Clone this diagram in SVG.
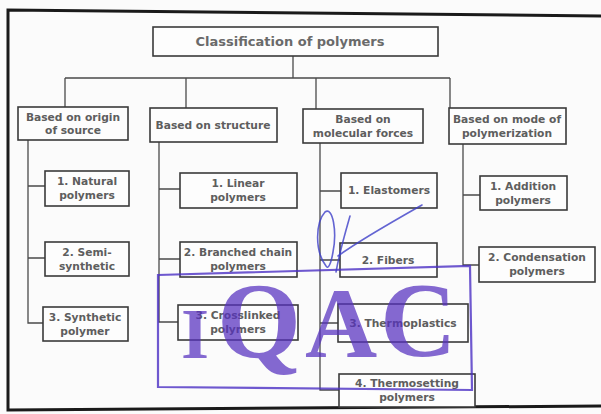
<svg xmlns="http://www.w3.org/2000/svg" width="601" height="414" viewBox="0 0 601 414">
  <style>
    .box { fill: #fdfdfd; stroke: #3a3a3a; stroke-width: 1.6; }
    .lbl { font-family: "DejaVu Sans", "Liberation Sans", sans-serif; font-weight: bold; font-size: 10.7px; fill: #5e5e5e; text-anchor: middle; }
    .title { font-size: 13px; fill: #6a6a6a; }
    .wire { fill: none; stroke: #4a4a4a; stroke-width: 1.3; }
    .frame { fill: none; stroke: #1a1a1a; stroke-width: 3; }
    .stamp { fill: none; stroke: #4b2fc4; stroke-width: 2.2; opacity: 0.8; }
    .ink { fill: none; stroke: #3d3fc8; stroke-width: 1.6; opacity: 0.8; stroke-linecap: round; }
    .seal { font-family: "Liberation Serif", "DejaVu Serif", serif; font-weight: bold; fill: #5630c0; opacity: 0.72; }
  </style>

  <rect width="601" height="414" fill="#fbfbfb"/>

  <!-- page frame -->
  <path class="frame" d="M601,16 L8,10 L8,410 L601,406"/>

  <!-- connectors -->
  <g id="connectors">
    <path class="wire" d="M293,56 V78 M65,78 H450 M65,78 V107 M186,78 V108 M316,78 V109 M450,78 V108"/>
    <path class="wire" d="M28,140 V323 H43 M28,186 H45 M28,258 H45"/>
    <path class="wire" d="M159,142 V322 H178 M159,189 H180 M159,259 H180"/>
    <path class="wire" d="M320,143 V390 H339 M320,191 H341 M320,260 H340 M320,323 H338"/>
    <path class="wire" d="M463,144 V265 H479 M463,195 H480"/>
  </g>

  <g id="root">
    <rect class="box" x="153" y="27" width="285" height="29"/>
    <text class="lbl title" x="290" y="46">Classification of polymers</text>
  </g>

  <g id="origin">
    <rect class="box" x="18" y="107" width="110" height="33"/>
    <text class="lbl" x="73" y="121">Based on origin</text>
    <text class="lbl" x="73" y="134">of source</text>
  </g>
  <g id="structure">
    <rect class="box" x="150" y="108" width="127" height="34"/>
    <text class="lbl" x="213" y="129">Based on structure</text>
  </g>
  <g id="forces">
    <rect class="box" x="303" y="109" width="120" height="34"/>
    <text class="lbl" x="363" y="123">Based on</text>
    <text class="lbl" x="363" y="137">molecular forces</text>
  </g>
  <g id="mode">
    <rect class="box" x="449" y="108" width="117" height="36"/>
    <text class="lbl" x="507" y="123">Based on mode of</text>
    <text class="lbl" x="507" y="137">polymerization</text>
  </g>

  <g id="natural">
    <rect class="box" x="45" y="171" width="84" height="35"/>
    <text class="lbl" x="87" y="185">1. Natural</text>
    <text class="lbl" x="87" y="199">polymers</text>
  </g>
  <g id="semisynthetic">
    <rect class="box" x="45" y="242" width="84" height="34"/>
    <text class="lbl" x="87" y="256">2. Semi-</text>
    <text class="lbl" x="87" y="270">synthetic</text>
  </g>
  <g id="synthetic">
    <rect class="box" x="43" y="307" width="85" height="34"/>
    <text class="lbl" x="85" y="321">3. Synthetic</text>
    <text class="lbl" x="85" y="335">polymer</text>
  </g>

  <g id="linear">
    <rect class="box" x="180" y="173" width="117" height="35"/>
    <text class="lbl" x="238" y="187">1. Linear</text>
    <text class="lbl" x="238" y="201">polymers</text>
  </g>
  <g id="branched">
    <rect class="box" x="180" y="242" width="117" height="35"/>
    <text class="lbl" x="238" y="256">2. Branched chain</text>
    <text class="lbl" x="238" y="270">polymers</text>
  </g>
  <g id="crosslinked">
    <rect class="box" x="178" y="305" width="120" height="35"/>
    <text class="lbl" x="238" y="319">3. Crosslinked</text>
    <text class="lbl" x="238" y="333">polymers</text>
  </g>

  <g id="elastomers">
    <rect class="box" x="341" y="173" width="96" height="35"/>
    <text class="lbl" x="389" y="194">1. Elastomers</text>
  </g>
  <g id="fibers">
    <rect class="box" x="340" y="243" width="97" height="34"/>
    <text class="lbl" x="388" y="264">2. Fibers</text>
  </g>
  <g id="thermoplastics">
    <rect class="box" x="338" y="304" width="130" height="38"/>
    <text class="lbl" x="403" y="327">3. Thermoplastics</text>
  </g>
  <g id="thermosetting">
    <rect class="box" x="339" y="374" width="136" height="33"/>
    <text class="lbl" x="407" y="387">4. Thermosetting</text>
    <text class="lbl" x="407" y="401">polymers</text>
  </g>

  <g id="addition">
    <rect class="box" x="480" y="176" width="87" height="34"/>
    <text class="lbl" x="523" y="190">1. Addition</text>
    <text class="lbl" x="523" y="204">polymers</text>
  </g>
  <g id="condensation">
    <rect class="box" x="479" y="247" width="116" height="35"/>
    <text class="lbl" x="537" y="261">2. Condensation</text>
    <text class="lbl" x="537" y="275">polymers</text>
  </g>

  <!-- rubber stamp and signature -->
  <g id="stamp">
    <path class="stamp" d="M158,275 L470,266 L472,390 L158,387 Z"/>
    <text class="seal" x="181" y="358" font-size="72">I</text>
    <text class="seal" x="217" y="357" font-size="108">Q</text>
    <text class="seal" x="305" y="357" font-size="100">A</text>
    <text class="seal" x="380" y="356" font-size="106">C</text>
    <path class="ink" d="M326,266 C314,250 316,222 325,212 C333,206 337,232 333,252 C331,264 328,270 326,266"/>
    <path class="ink" d="M336,272 C340,250 346,230 350,216"/>
    <path class="ink" d="M338,256 C360,240 392,222 422,205"/>
  </g>
</svg>
